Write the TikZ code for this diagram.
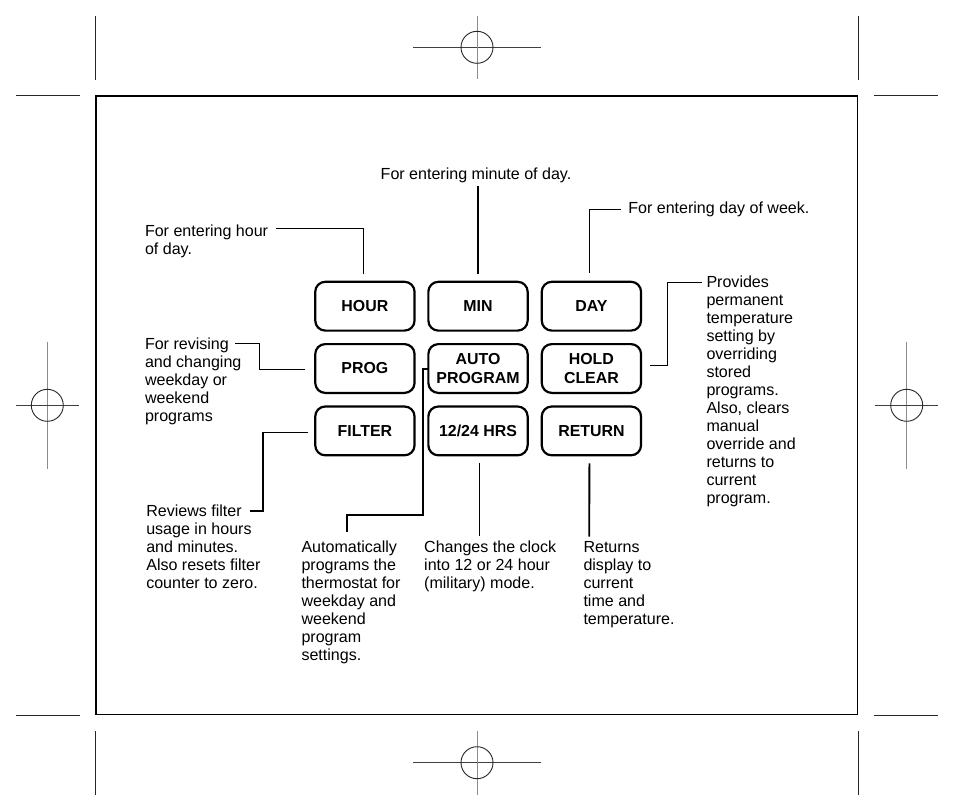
\documentclass[tikz,border=0pt]{standalone}
\usepackage{fontspec}
\setmainfont{Liberation Sans}
\begin{document}
\begin{tikzpicture}[x=1pt,y=-1pt,
  btn/.style={draw, line width=2.2pt, rounded corners=10pt, minimum width=99.3pt, minimum height=48.8pt, inner sep=0pt, outer sep=0pt, font=\fontsize{15.9}{19.3}\selectfont\bfseries, align=center},
  lbl/.style={anchor=base west, inner sep=0pt, outer sep=0pt, font=\fontsize{16.05}{18}\selectfont},
  thinln/.style={line width=1pt},
  thickln/.style={line width=1.8pt},
  crop/.style={line width=1pt, black!85},
  regh/.style={line width=1pt, black!75},
  regv/.style={line width=1pt, black!45},
  regc/.style={line width=0.9pt, black!85},
]
\useasboundingbox (0,0) rectangle (954,811);

% frame
\draw[line width=1.8pt] (96.2,96.2) rectangle (857.5,714.5);

% crop marks
\draw[crop] (95.7,16) -- (95.7,80);
\draw[crop] (16,95.3) -- (80,95.3);
\draw[crop] (858,16) -- (858,80);
\draw[crop] (874,95.3) -- (938,95.3);
\draw[crop] (16,715) -- (80,715);
\draw[crop] (95.7,731) -- (95.7,795);
\draw[crop] (874,715) -- (938,715);
\draw[crop] (858,731) -- (858,795);

% registration marks
\draw[regh] (413,47.3) -- (541,47.3);
\draw[regv] (477,16) -- (477,79);
\draw[regc] (477,47.3) circle[radius=16];
\draw[regh] (413,762.7) -- (541,762.7);
\draw[regv] (477,731) -- (477,794.5);
\draw[regc] (477,762.7) circle[radius=16];
\draw[regv] (47.3,341.7) -- (47.3,468.9);
\draw[regh] (16,405.3) -- (79,405.3);
\draw[regc] (47.3,405.3) circle[radius=16];
\draw[regv] (906.7,341.7) -- (906.7,468.9);
\draw[regh] (875,405.3) -- (938,405.3);
\draw[regc] (906.7,405.3) circle[radius=16];

% buttons
\node[btn] (hour)   at (364.9,306.2) {HOUR};
\node[btn] (min)    at (478,306.2)   {MIN};
\node[btn] (day)    at (591.4,306.2) {DAY};
\node[btn] (prog)   at (364.9,368.5) {PROG};
\node[btn] (auto)   at (478,368.5)   {AUTO\\PROGRAM};
\node[btn] (hold)   at (591.4,368.5) {HOLD\\CLEAR};
\node[btn] (filter) at (364.9,430.9) {FILTER};
\node[btn] (hrs)    at (478,430.9)   {12/24 HRS};
\node[btn] (ret)    at (591.4,430.9) {RETURN};

% labels
\node[lbl] (tmin) at (380.7,179) {For entering minute of day.};
\node[lbl] (thour) at (145,236) {\begin{tabular}[t]{@{}l@{}}For entering hour\\of day.\end{tabular}};
\node[lbl] (tday) at (628.3,213.3) {For entering day of week.};
\node[lbl] (thold) at (706.5,287.7) {\begin{tabular}[t]{@{}l@{}}Provides\\permanent\\temperature\\setting by\\overriding\\stored\\programs.\\Also, clears\\manual\\override and\\returns to\\current\\program.\end{tabular}};
\node[lbl] (tprog) at (145,349) {\begin{tabular}[t]{@{}l@{}}For revising\\and changing\\weekday or\\weekend\\programs\end{tabular}};
\node[lbl] (tfilter) at (146.3,516) {\begin{tabular}[t]{@{}l@{}}Reviews filter\\usage in hours\\and minutes.\\Also resets filter\\counter to zero.\end{tabular}};
\node[lbl] (tauto) at (301.5,552.5) {\begin{tabular}[t]{@{}l@{}}Automatically\\programs the\\thermostat for\\weekday and\\weekend\\program\\settings.\end{tabular}};
\node[lbl] (thrs) at (424.2,552.5) {\begin{tabular}[t]{@{}l@{}}Changes the clock\\into 12 or 24 hour\\(military) mode.\end{tabular}};
\node[lbl] (tret) at (583.5,552.5) {\begin{tabular}[t]{@{}l@{}}Returns\\display to\\current\\time and\\temperature.\end{tabular}};

% connector free ends
\coordinate (hourend) at (276,228.3);
\coordinate (minend) at (478,186);
\coordinate (dayend) at (621,209);
\coordinate (progend) at (235,343.3);
\coordinate (filterend) at (250,511);
\coordinate (autoend) at (346.7,531.5);
\coordinate (hrsend) at (479.3,536);
\coordinate (retend) at (589.3,536.7);
\coordinate (holdend) at (701.7,282.7);

% connectors
\draw[thinln] ([xshift=-1pt,yshift=7.4pt]hour.north) |- (hourend);
\draw[thickln] ([yshift=7.4pt]min.north) -- (minend);
\draw[thinln] ([xshift=-2pt,yshift=9pt]day.north) |- (dayend);
\draw[thinln] ([xshift=-10pt,yshift=-0.8pt]prog.west) -- ++(-45.7,0) |- (progend);
\draw[thickln] ([xshift=-7pt,yshift=-1.6pt]filter.west) -- ++(-45,0) |- (filterend);
\draw[thickln] ([yshift=-0.5pt]auto.west) -- ++(-5.7,0) -- ++(0,146.3) -| (autoend);
\draw[thinln] ([xshift=1.3pt,yshift=-8pt]hrs.south) -- (hrsend);
\draw[thickln] ([xshift=-2pt,yshift=-8pt]ret.south) -- (retend);
\draw[thinln] ([xshift=9pt,yshift=3pt]hold.east) -- ++(17.7,0) |- (holdend);
\end{tikzpicture}
\end{document}
